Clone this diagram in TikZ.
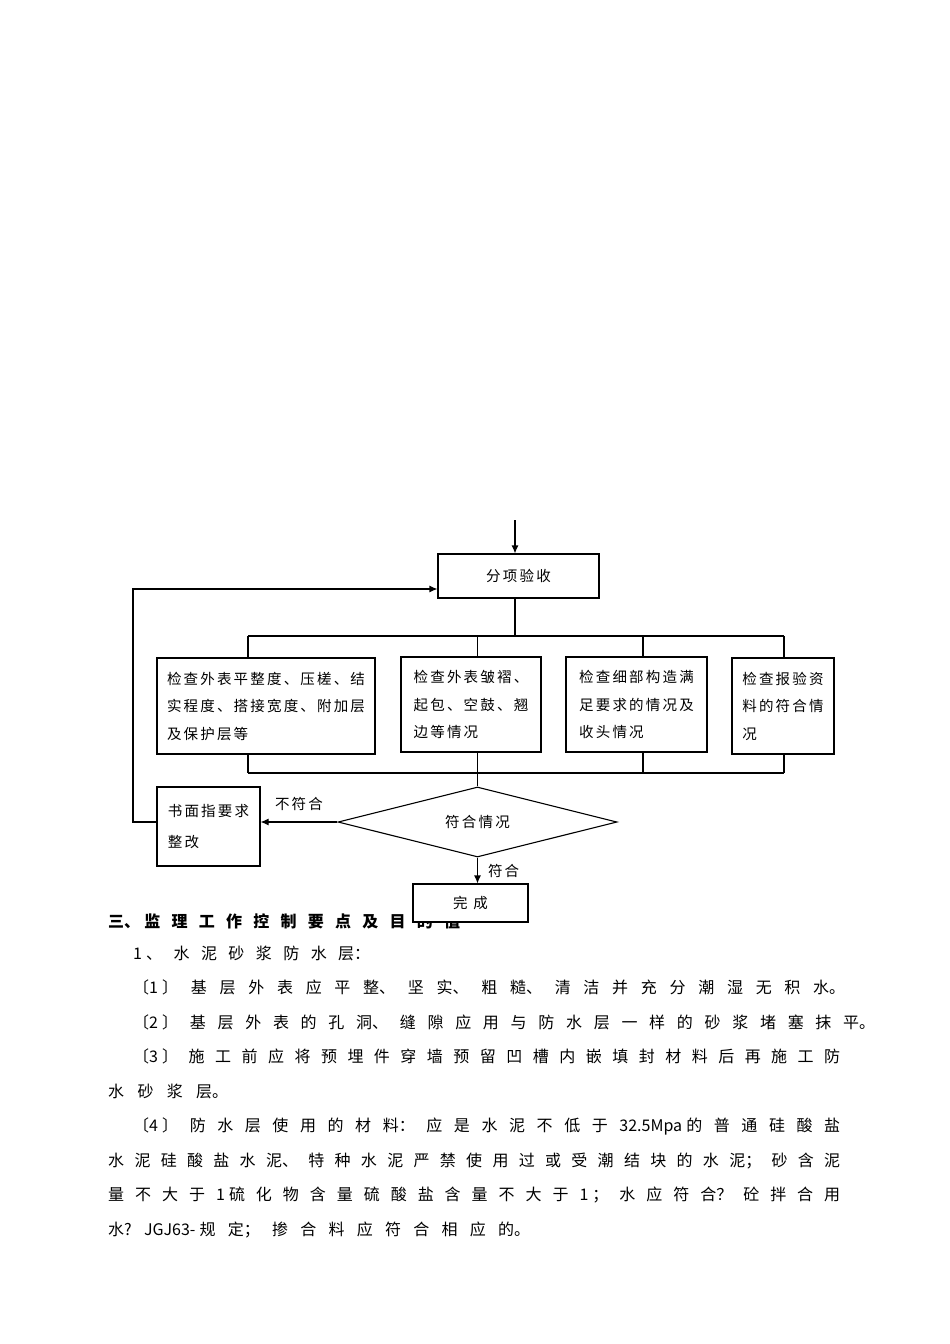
\documentclass[tikz,border=0pt]{standalone}
\usepackage{fontspec}
\setmainfont{Noto Sans CJK SC}
\newfontfamily\boxfont[LetterSpace=15]{Noto Sans CJK SC}
\usetikzlibrary{shapes.geometric, arrows.meta, positioning}

\newcommand{\flowfont}{\boxfont\fontsize{14.5}{27.5}\selectfont}
\newcommand{\bodyfont}{\fontsize{16}{20}\selectfont}
% spread one line of Chinese text over the given text width
\newcommand{\cjkjustify}{\XeTeXlinebreaklocale "zh"\XeTeXlinebreakskip=0pt plus 40pt\relax
  \parindent=0pt\parfillskip=0pt\relax\tolerance=10000\relax}

\begin{document}
\begin{tikzpicture}[x=1pt, y=-1pt]
        \tikzstyle{box} = [rectangle, draw = black, line width = 1.1pt, fill = white, inner sep = 0pt, font = \flowfont]
        \tikzstyle{decision} = [diamond, draw = black, line width = 1.1pt, aspect = 4, inner sep = 0pt, minimum width = 279, minimum height = 70, font = \flowfont]
        \tikzstyle{line} = [line width = 1.1pt]
        \tikzstyle{connect} = [-{Latex[length = 8pt, width = 7pt]}, line width = 1.1pt]
        \tikzstyle{body} = [anchor = base west, inner sep = 0pt, align = justify, font = \bodyfont, execute at begin node = \cjkjustify]
        \useasboundingbox[fill = white] (0,0) rectangle (950,1344);

        % flow chart
        \coordinate (start) at (515,520);
        \node[box, minimum width = 161, minimum height = 44] (fx) at (518.5,576) {分项验收};
        \draw[connect] (start) -- (start |- fx.north);

        \node[box, minimum width = 218, minimum height = 96, align = left] (c1) at (266,706) {检查外表平整度、压槎、结\\实程度、搭接宽度、附加层\\及保护层等};
        \node[box, minimum width = 140, minimum height = 95, align = left] (c2) at (471,704.5) {检查外表皱褶、\\起包、空鼓、翘\\边等情况};
        \node[box, minimum width = 141, minimum height = 95, align = left] (c3) at (636.5,704.5) {检查细部构造满\\足要求的情况及\\收头情况};
        \node[box, minimum width = 102, minimum height = 96, align = left] (c4) at (783,706) {检查报验资\\料的符合情\\况};

        \coordinate (t0) at (515,636);
        \coordinate (t1) at (248,636);
        \coordinate (t2) at (477.5,636);
        \coordinate (t3) at (643,636);
        \coordinate (t4) at (784,636);
        \coordinate (u1) at (248,773);
        \coordinate (u2) at (477.5,773);
        \coordinate (u3) at (643,773);
        \coordinate (u4) at (784,773);
        \draw[line] (t0 |- fx.south) -- (t0);
        \draw[line] (t1) -- (t4);
        \draw[line] (u1) -- (u4);
        \foreach \i in {1,...,4} {
          \draw[line] (t\i) -- (t\i |- c\i.north);
          \draw[line] (u\i |- c\i.south) -- (u\i);
        }

        \node[decision] (dm) at (477.5,822) {符合情况};
        \draw[line] (u2) -- (dm.north);

        \node[box, minimum width = 103, minimum height = 79, align = left] (zg) at (208.5,826.5) {书面指要求\\[4pt]整改};
        \draw[connect] (dm.west) -- node[above = 11pt, midway, font = \flowfont, inner sep = 0pt] (nf) {不符合} (dm.west -| zg.east);
        \coordinate (lp) at (133,589);
        \draw[connect] (zg.west |- dm.west) -| (lp) -- (lp -| fx.west);

        % text under the chart
        \node[body, text width = 352, font = \bodyfont\bfseries] (h3) at (108,927) {三、 监理工作控制要点及目的值};
        \node[body, text width = 237] (r1) at (133,959) {1 、水泥砂浆防水层：};
        \node[body, text width = 712] (r2) at (133,993) {〔1 〕基层外表应平整、坚实、粗糙、清洁并充分潮湿无积水。};
        \node[body, text width = 742] (r3) at (133,1028) {〔2 〕基层外表的孔洞、缝隙应用与防水层一样的砂浆堵塞抹平。};
        \node[body, text width = 707] (r4) at (133,1062) {〔3 〕施工前应将预埋件穿墙预留凹槽内嵌填封材料后再施工防};
        \node[body, text width = 120] (r5) at (108,1097) {水砂浆层。};
        \node[body, text width = 707] (r6) at (133,1131) {〔4 〕防水层使用的材料：应是水泥不低于32.5Mpa 的普通硅酸盐};
        \node[body, text width = 732] (r7) at (108,1166) {水泥硅酸盐水泥、特种水泥严禁使用过或受潮结块的水泥；砂含泥};
        \node[body, text width = 732] (r8) at (108,1200) {量不大于1 硫化物含量硫酸盐含量不大于1 ；水应符合？砼拌合用};
        \node[body, text width = 422] (r9) at (108,1235) {水?JGJ63- 规定；掺合料应符合相应的。};

        % the end box lies over the heading
        \node[box, minimum width = 115, minimum height = 38] (wc) at (470.5,903) {完\hspace{6pt}成};
        \draw[connect] (dm.south) -- node[right = 10pt, midway, font = \flowfont, inner sep = 0pt] (fh) {符合} (dm.south |- wc.north);
\end{tikzpicture}
\end{document}
